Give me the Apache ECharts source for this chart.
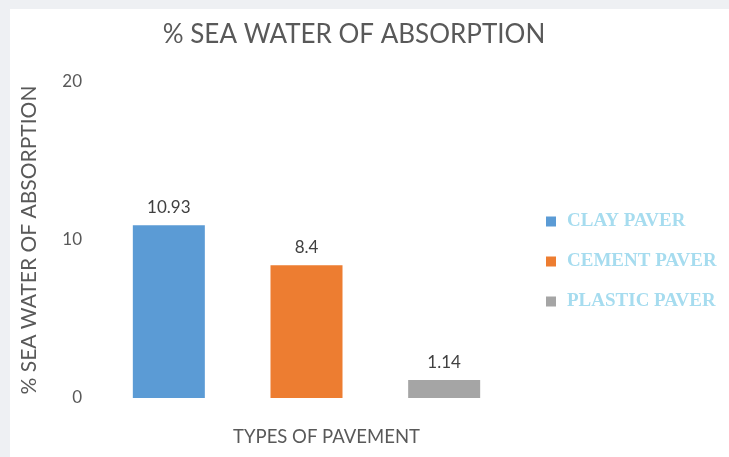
<!DOCTYPE html>
<html>
<head>
<meta charset="utf-8">
<script src="https://cdn.jsdelivr.net/npm/echarts@6/dist/echarts.min.js"></script>
<style>
  html, body { margin: 0; padding: 0; background: #eef0f3; }
  #chart { width: 729px; height: 457px; }
</style>
</head>
<body>
<div id="chart"></div>
<script>
// Pavement types and their sea-water absorption (%)
const pavers = ['CLAY PAVER', 'CEMENT PAVER', 'PLASTIC PAVER'];
const clayValues = [10.93, '-', '-'];
const cementValues = ['-', 8.4, '-'];
const plasticValues = ['-', '-', 1.14];
const yTicks = [0, 10, 20];

const colors = ['#5b9bd5', '#ed7d31', '#a5a5a5'];
const labelFont = 'Lato, "Open Sans", sans-serif';

const chart = echarts.init(document.getElementById('chart'), null, { renderer: 'canvas' });

function barSeries(name, data, color) {
  return {
    name: name,
    type: 'bar',
    stack: 'paver',
    data: data,
    barWidth: 72,
    itemStyle: { color: color },
    label: {
      show: true,
      position: 'top',
      distance: 9,
      color: '#404040',
      fontSize: 17,
      fontFamily: labelFont
    }
  };
}

chart.setOption({
  backgroundColor: '#eef0f3',
  graphic: [{
    type: 'rect',
    z: -10,
    shape: { x: 10, y: 9, width: 729, height: 460 },
    style: { fill: '#ffffff' }
  }],
  title: {
    text: '% SEA WATER OF ABSORPTION',
    left: 349,
    textAlign: 'center',
    top: 17,
    textStyle: {
      color: '#595959',
      fontSize: 26,
      fontWeight: 'normal',
      fontFamily: labelFont
    }
  },
  legend: {
    orient: 'vertical',
    left: 541,
    top: 207,
    itemWidth: 10,
    itemHeight: 10,
    itemGap: 21,
    icon: 'rect',
    textStyle: {
      color: '#a6dcef',
      fontSize: 19,
      fontWeight: 'bold',
      fontFamily: '"Liberation Serif", serif',
      padding: [0, 0, 0, 6]
    },
    data: pavers
  },
  grid: { left: 100, right: 216, top: 82, bottom: 59 },
  xAxis: {
    type: 'category',
    data: pavers,
    axisLine: { show: false },
    axisTick: { show: false },
    axisLabel: { show: false },
    name: 'TYPES OF PAVEMENT',
    nameLocation: 'middle',
    nameGap: 30,
    nameTextStyle: {
      color: '#595959',
      fontSize: 18.5,
      fontFamily: labelFont,
      padding: [0, 0, 0, 40]
    }
  },
  yAxis: {
    type: 'value',
    min: yTicks[0],
    max: yTicks[yTicks.length - 1],
    interval: 10,
    splitLine: { show: false },
    axisLine: { show: false },
    axisTick: { show: false },
    axisLabel: {
      color: '#595959',
      fontSize: 17,
      margin: 18,
      fontFamily: labelFont
    },
    name: '% SEA WATER OF ABSORPTION',
    nameLocation: 'middle',
    nameGap: 60,
    nameTextStyle: {
      color: '#595959',
      fontSize: 21,
      fontFamily: labelFont
    }
  },
  series: [
    barSeries(pavers[0], clayValues, colors[0]),
    barSeries(pavers[1], cementValues, colors[1]),
    barSeries(pavers[2], plasticValues, colors[2])
  ]
});
</script>
</body>
</html>
